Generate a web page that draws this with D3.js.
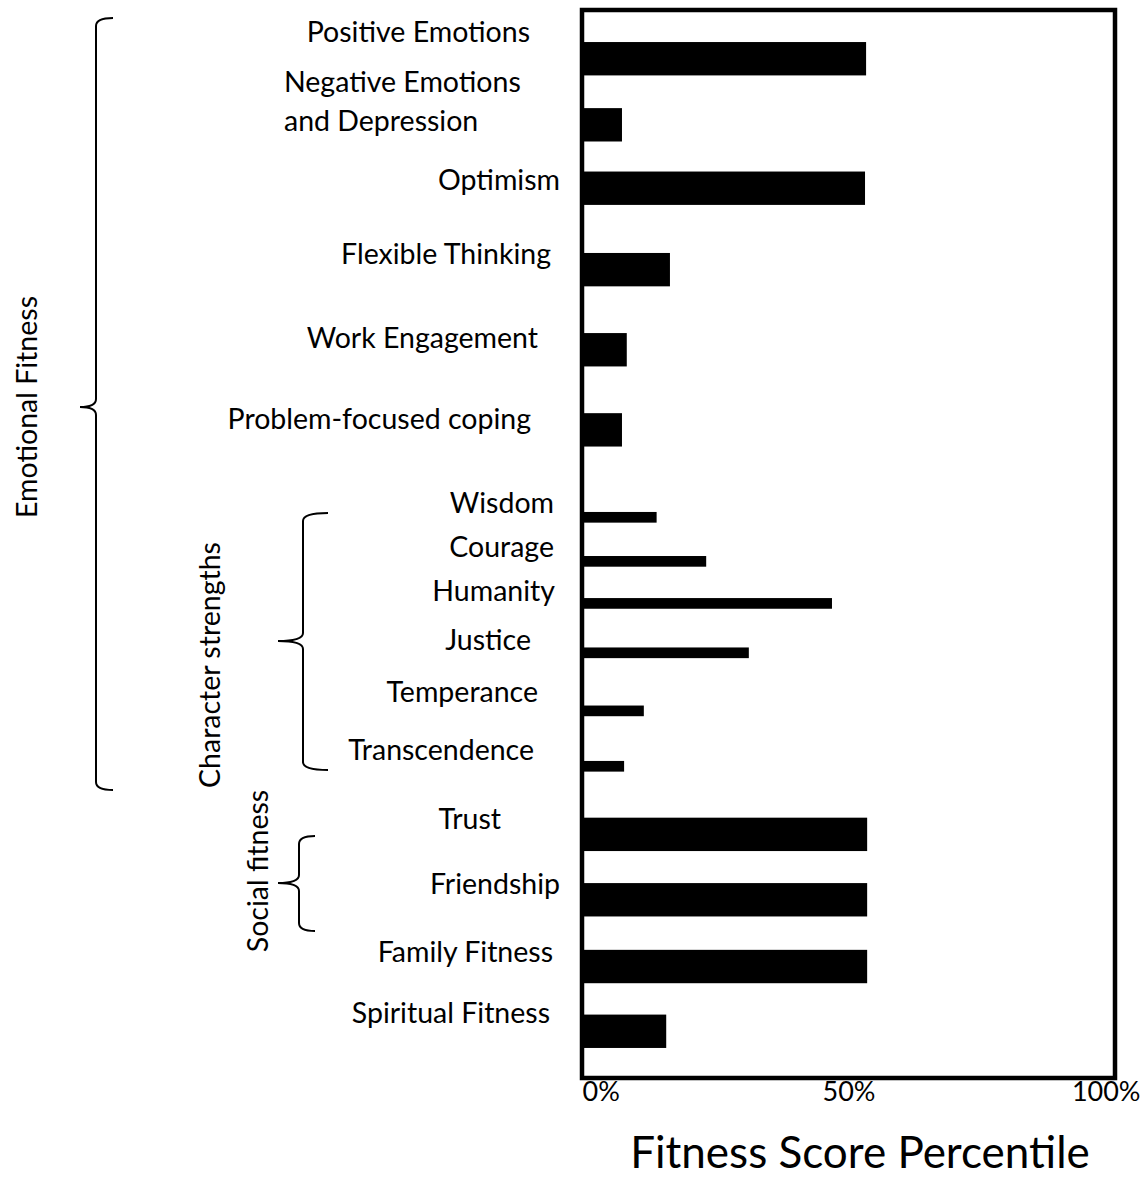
<!DOCTYPE html>
<meta charset="utf-8">
<style>
body { margin: 0; background: #fff; }
svg text { font-family: Lato, "Open Sans", sans-serif; fill: #000; }
</style>
<body>
<svg class="chart js-chart"></svg>

<script src="https://d3js.org/d3.v7.min.js"></script>
<script type="text/javascript">
"use strict";

// categories, top to bottom
var categories = [
  "Positive Emotions", "Negative Emotions and Depression", "Optimism",
  "Flexible Thinking", "Work Engagement", "Problem-focused coping",
  "Wisdom", "Courage", "Humanity", "Justice", "Temperance", "Transcendence",
  "Trust", "Friendship", "Family Fitness", "Spiritual Fitness"
];
// fitness score percentile (%)
var scores = [53.3, 7.5, 53.1, 16.5, 8.4, 7.5, 14, 23.3, 46.9, 31.3, 11.6, 7.9, 53.5, 53.5, 53.5, 15.8];
// row slot on the vertical axis (units of the y scale) and bar kind
var rowSlot = [0.73, 1.72, 2.67, 3.89, 5.09, 6.29, 7.6, 8.26, 8.89, 9.63, 10.5, 11.33, 12.35, 13.33, 14.33, 15.3];
var thinBar = [false, false, false, false, false, false, true, true, true, true, true, true, false, false, false, false];
var xTicks = [0, 50, 100];

var groups = ["Emotional Fitness", "Character strengths", "Social fitness"];

var width = 1148, height = 1180;
var margin = { top: 10, right: 33, bottom: 102, left: 582 };
var fs = 28.5;

var svg = d3.select('.js-chart')
  .attr('width', width)
  .attr('height', height);

var x = d3.scaleLinear().domain([0, 100]).range([margin.left, width - margin.right]);
var y = d3.scaleLinear().domain([0, 16]).range([margin.top, height - margin.bottom]);

var thick = 0.5, thin = 0.16;

svg.append('g').selectAll('rect')
  .data(categories)
  .join('rect')
    .attr('x', x(0))
    .attr('y', function (d, i) { return y(rowSlot[i]) - (y(thinBar[i] ? thin : thick) - y(0)) / 2; })
    .attr('width', function (d, i) { return x(scores[i]) - x(0); })
    .attr('height', function (d, i) { return y(thinBar[i] ? thin : thick) - y(0); })
    .style('fill', '#000');

// frame
svg.append('rect')
  .attr('x', x(0))
  .attr('y', y(0))
  .attr('width', x(100) - x(0))
  .attr('height', y(16) - y(0))
  .style('fill', 'none')
  .style('stroke', '#000')
  .style('stroke-width', 4.5);

// x axis ticks
var xAxis = svg.append('g')
  .attr('transform', 'translate(0,' + y(16) + ')')
  .call(d3.axisBottom(x).tickValues(xTicks).tickSize(0).tickPadding(4).tickFormat(function (d) { return d + '%'; }));
xAxis.select('.domain').remove();
xAxis.selectAll('text')
  .style('font-family', 'Lato, sans-serif')
  .attr('font-size', 27)
  .attr('text-anchor', function (d) { return d === 0 ? 'start' : d === 100 ? 'end' : 'middle'; })
  .attr('dx', function (d) { return d === 100 ? 25 : 0; });

svg.append('text')
  .attr('x', 860)
  .attr('y', 1168)
  .attr('text-anchor', 'middle')
  .attr('font-size', 44)
  .text('Fitness Score Percentile');

// category labels (hand placed, like the original slide)
var labelEnd = [530, null, 560, 551, 538, 531, 554, 554, 555, 531, 538, 534, 501, 560, 553, 550];
var labelMid = [32, null, 180, 254, 338, 419, 503, 547, 591, 640, 692, 750, 819, 884, 952, 1013];

categories.forEach(function (c, i) {
  if (labelEnd[i] === null) return;
  svg.append('text')
    .attr('x', labelEnd[i])
    .attr('y', labelMid[i] + 10)
    .attr('text-anchor', 'end')
    .attr('font-size', fs)
    .text(c);
});
svg.append('text').attr('x', 284).attr('y', 92).attr('font-size', fs).text('Negative Emotions');
svg.append('text').attr('x', 284).attr('y', 131).attr('font-size', fs).text('and Depression');

// braces
function brace(xEnd, xLine, xTip, top, mid, bottom) {
  var r = 8;
  return 'M' + xEnd + ',' + top +
    ' Q' + xLine + ',' + top + ' ' + xLine + ',' + (top + r) +
    ' L' + xLine + ',' + (mid - r) +
    ' Q' + xLine + ',' + mid + ' ' + xTip + ',' + mid +
    ' Q' + xLine + ',' + mid + ' ' + xLine + ',' + (mid + r) +
    ' L' + xLine + ',' + (bottom - r) +
    ' Q' + xLine + ',' + bottom + ' ' + xEnd + ',' + bottom;
}
var braces = [
  [113, 96, 80, 18, 407, 790],
  [328, 303, 278, 513, 641, 770],
  [315, 299, 278, 836, 883, 931]
];
braces.forEach(function (b) {
  svg.append('path')
    .attr('d', brace.apply(null, b))
    .style('fill', 'none')
    .style('stroke', '#000')
    .style('stroke-width', 2);
});

var groupPos = [[27, 407], [210, 665], [258, 871]];
groups.forEach(function (g, i) {
  svg.append('text')
    .attr('transform', 'translate(' + (groupPos[i][0] + 10) + ',' + groupPos[i][1] + ') rotate(-90)')
    .attr('text-anchor', 'middle')
    .attr('font-size', fs)
    .text(g);
});
</script>
</body>
